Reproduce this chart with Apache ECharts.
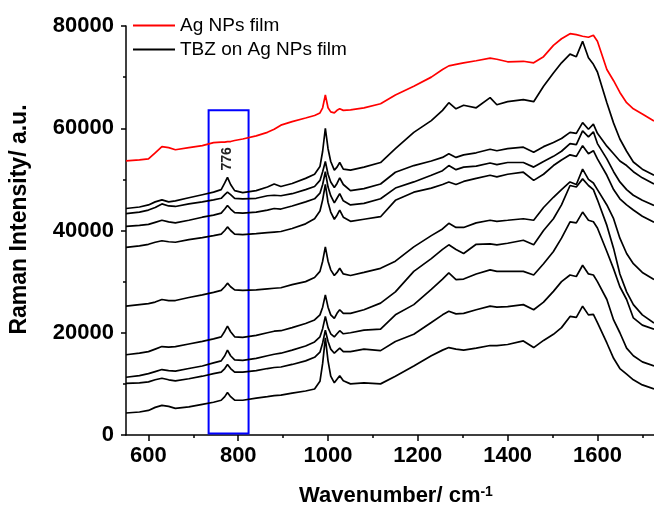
<!DOCTYPE html>
<html><head><meta charset="utf-8">
<script src="https://cdn.jsdelivr.net/npm/echarts@6/dist/echarts.min.js"></script>
<style>html,body{margin:0;padding:0;background:#fff}#c{width:654px;height:512px}</style>
</head><body><div id="c"></div>
<script>
// Wavenumber positions (cm-1) shared by all spectra
const wavenumbers = [550,580,600,615,630,645,660,690,720,745,762,770,776,783,792,810,840,865,880,895,920,950,970,982,988,994,1000,1006,1014,1020,1026,1034,1050,1080,1117,1150,1191,1230,1255,1269,1285,1302,1330,1361,1376,1400,1435,1458,1480,1502,1520,1539,1553,1567,1580,1591,1600,1621,1636,1650,1665,1680,1700,1726];
// Intensities in thousands of counts
const agFilm = [53.6,53.8,54.0,55.2,56.4,56.2,55.8,56.2,56.6,57.2,57.3,57.3,57.4,57.4,57.6,57.9,58.5,59.2,59.8,60.6,61.3,62.0,62.5,63.0,64.0,66.5,64.0,63.2,63.0,63.5,63.8,63.5,63.6,64.0,64.8,66.5,68.2,70.0,71.5,72.2,72.5,72.8,73.2,73.7,73.5,73.0,73.1,72.8,74.0,76.2,77.5,78.5,78.3,78.0,77.8,78.2,77.0,71.5,69.3,67.0,65.0,63.8,62.8,61.4];
const tbz1 = [44.3,44.6,45.0,45.6,46.0,45.6,45.8,46.4,47.0,47.5,48.0,49.3,50.4,49.0,47.8,47.4,47.8,48.5,49.1,48.6,49.2,50.2,51.0,52.5,55.5,60.0,56.0,53.5,51.8,52.4,53.3,52.0,51.8,52.4,53.3,56.0,59.2,61.5,63.5,65.0,63.8,64.5,64.0,66.0,64.6,65.2,65.6,65.2,68.2,70.8,72.8,74.5,74.0,77.0,73.8,72.5,71.0,65.0,61.0,57.9,55.5,53.4,52.0,50.8];
const tbz2 = [43.3,43.6,44.0,44.5,45.2,44.8,44.7,45.2,45.6,46.0,46.3,47.0,47.5,47.0,46.3,46.2,46.3,46.8,46.9,46.8,47.2,48.0,48.6,49.8,51.5,53.5,51.0,49.5,48.4,49.2,50.3,49.0,47.8,48.2,49.1,51.4,52.7,53.6,54.3,55.0,54.3,54.8,55.2,55.9,55.6,56.0,56.3,55.3,56.4,57.2,58.0,59.2,59.0,61.1,59.8,60.8,59.0,56.5,55.0,53.6,52.7,51.5,50.3,49.1];
const tbz3 = [40.8,41.0,41.2,41.6,42.0,41.7,41.5,42.0,42.6,43.0,43.4,44.2,44.9,44.2,43.5,43.4,43.6,44.0,44.3,44.2,44.8,45.6,46.2,47.3,49.0,51.5,48.5,46.8,45.4,46.3,47.2,45.8,45.0,45.3,46.2,48.3,49.5,50.8,51.7,52.7,51.9,52.4,52.6,53.2,52.9,53.3,53.3,52.4,53.5,54.5,55.5,57.0,56.8,59.5,58.3,59.3,57.0,54.0,51.5,49.5,48.0,46.9,45.9,44.9];
const tbz4 = [36.7,37.0,37.3,37.7,38.0,37.8,37.7,38.2,38.6,39.0,39.3,40.0,40.7,40.0,39.3,39.2,39.4,39.6,39.7,39.8,40.4,41.3,42.3,43.8,46.0,49.0,45.5,43.6,42.2,43.0,44.0,42.6,41.8,42.2,42.7,45.9,47.5,48.3,49.0,49.5,49.0,49.6,50.2,50.8,50.5,51.0,51.4,49.8,51.0,52.7,53.8,54.8,54.5,56.6,55.0,55.6,54.0,50.8,48.0,46.2,45.0,44.0,42.8,41.6];
const tbz5 = [25.2,25.5,25.7,26.0,26.5,26.3,26.3,26.9,27.4,27.9,28.3,29.0,29.7,29.0,28.4,28.3,28.4,28.6,28.7,28.8,29.4,30.0,30.8,32.0,34.0,36.8,34.0,32.3,31.2,31.8,32.6,31.5,31.2,31.8,32.6,34.0,36.8,39.0,40.3,41.4,40.6,40.6,41.5,42.0,41.8,42.0,42.3,42.0,44.5,46.5,48.0,49.5,49.0,52.0,50.0,49.3,48.0,45.0,42.3,38.5,35.5,33.5,31.8,30.4];
const tbz6 = [15.7,16.0,16.3,16.8,17.3,17.2,17.3,17.8,18.3,18.8,19.2,20.3,21.3,20.2,19.2,19.1,19.5,20.0,20.3,20.4,21.0,21.8,22.5,23.5,25.0,27.4,25.0,23.5,22.8,23.8,24.5,23.8,23.8,24.5,25.8,28.0,32.0,34.5,36.3,37.2,36.3,35.5,37.3,37.4,37.2,37.5,38.1,37.2,40.0,42.3,45.0,48.8,48.5,50.1,48.8,48.0,46.0,41.0,36.5,31.5,28.0,25.5,23.5,21.9];
const tbz7 = [11.3,11.6,12.0,12.4,12.8,12.6,12.5,13.0,13.5,14.1,14.5,15.5,16.6,15.5,14.7,14.6,15.0,15.5,15.8,16.0,16.6,17.4,18.2,19.2,20.8,23.2,21.0,19.8,19.2,19.8,20.4,19.8,20.0,20.5,20.7,23.5,25.5,28.5,30.5,31.7,30.4,30.5,31.5,32.3,32.0,32.0,32.0,31.3,33.5,35.9,38.5,41.7,41.5,43.6,42.0,41.7,40.5,35.9,32.5,29.0,26.5,22.9,21.5,20.7];
const tbz8 = [10.1,10.2,10.4,10.8,11.1,10.8,10.6,11.0,11.5,12.0,12.3,13.0,13.8,13.0,12.3,12.3,12.6,13.0,13.2,13.3,13.8,14.5,15.2,16.2,18.0,20.5,18.3,16.8,16.0,16.5,17.0,16.3,16.3,16.8,16.5,18.3,19.7,22.0,23.5,24.2,23.7,23.8,24.5,25.2,25.0,25.1,25.5,24.5,26.0,28.1,30.0,31.3,31.0,33.2,31.5,31.3,30.0,26.5,22.5,20.0,17.0,15.5,14.3,13.5];
const tbz9 = [4.3,4.5,4.8,5.4,5.8,5.6,5.2,5.5,6.0,6.4,6.8,7.5,8.3,7.5,6.8,6.8,7.2,7.5,7.7,7.8,8.2,8.6,9.0,10.5,14.0,19.0,14.5,11.5,10.2,10.9,11.6,10.6,10.0,10.2,10.0,11.5,13.5,15.5,16.6,17.1,16.8,16.6,17.0,17.5,17.5,17.7,18.4,17.1,18.5,19.7,21.0,23.2,23.0,25.2,23.5,23.6,22.0,18.0,15.0,13.0,11.9,10.8,9.8,9.0];
const tbzSpectra = [tbz1,tbz2,tbz3,tbz4,tbz5,tbz6,tbz7,tbz8,tbz9];
const UNIT = 1000;
const seriesNames = ['Ag NPs film','TBZ on Ag NPs film'];
const xMajorTicks = [600,800,1000,1200,1400,1600];
const xMinorTicks = [700,900,1100,1300,1500,1700];
const xRange = [550,1726];
const yRange = [0,80000];
const yStep = 20000;
const boxX = [734,823];
const boxY = [300,63500];
const peakLabel = {text:'776', x:776, y:54000};

const FONT = 'Liberation Sans, Arial, Helvetica, sans-serif';
const pairs = arr => wavenumbers.map((w,i)=>[w, arr[i]*UNIT]);
const plain = v => String(v);

const series = [{
  name: seriesNames[0], type:'line', data: pairs(agFilm), symbol:'none',
  color:'#ff0000', lineStyle:{width:1.7, color:'#ff0000'}, z:3
}];
tbzSpectra.forEach((arr,i)=>{
  const s = {name: seriesNames[1], type:'line', data: pairs(arr), symbol:'none',
    color:'#000000', lineStyle:{width:1.7, color:'#000000'}, z:2};
  if(i===0){
    s.markArea = {silent:true, itemStyle:{color:'rgba(0,0,0,0)', borderColor:'#0000ff', borderWidth:2},
      data:[[{coord:[boxX[0], boxY[0]]},{coord:[boxX[1], boxY[1]]}]]};
    s.markPoint = {silent:true, symbol:'circle', symbolSize:1, itemStyle:{color:'rgba(0,0,0,0)'},
      label:{show:true, formatter:peakLabel.text, rotate:90, position:'inside', fontSize:14, fontWeight:'bold', color:'#222', fontFamily:FONT},
      data:[{coord:[peakLabel.x, peakLabel.y]}]};
  }
  series.push(s);
});

const chart = echarts.init(document.getElementById('c'), null, {renderer:'canvas'});
chart.setOption({
  animation:false,
  backgroundColor:'#ffffff',
  textStyle:{fontFamily:FONT},
  grid:{left:125, right:0, top:26, bottom:74, containLabel:false},
  legend:{
    data:seriesNames, orient:'vertical', left:133, top:16, padding:0,
    icon:'rect', itemWidth:42, itemHeight:2, itemGap:5,
    textStyle:{fontSize:19, color:'#000', fontFamily:FONT}
  },
  xAxis:[{
    type:'value', min:xRange[0], max:xRange[1], position:'bottom',
    axisLine:{show:true, lineStyle:{color:'#000', width:1.5}},
    axisTick:{show:true, inside:false, length:6, lineStyle:{color:'#000', width:1.5}, customValues:xMajorTicks},
    axisLabel:{show:true, fontSize:22, fontWeight:'bold', color:'#000', margin:10, fontFamily:FONT, customValues:xMajorTicks, formatter:plain},
    splitLine:{show:false},
    name:'Wavenumber/ cm{sup|-1}', nameLocation:'middle', nameGap:50,
    nameTextStyle:{fontSize:22, fontWeight:'bold', color:'#000', fontFamily:FONT, padding:[0,0,0,12],
      rich:{sup:{fontSize:14, fontWeight:'bold', color:'#000', fontFamily:FONT, verticalAlign:'top'}}}
  },{
    type:'value', min:xRange[0], max:xRange[1], position:'bottom', offset:0,
    axisLine:{show:false},
    axisTick:{show:true, inside:false, length:3, lineStyle:{color:'#000', width:1.5}, customValues:xMinorTicks},
    axisLabel:{show:false}, splitLine:{show:false}
  }],
  yAxis:{
    type:'value', min:yRange[0], max:yRange[1], interval:yStep,
    axisLine:{show:true, lineStyle:{color:'#000', width:1.5}},
    axisTick:{show:true, inside:false, length:5, lineStyle:{color:'#000', width:1.5}},
    minorTick:{show:true, splitNumber:2, length:3, lineStyle:{color:'#000', width:1.5}},
    axisLabel:{fontSize:22, fontWeight:'bold', color:'#000', margin:12, fontFamily:FONT, formatter:plain},
    splitLine:{show:false}, minorSplitLine:{show:false},
    name:'Raman Intensity/ a.u.', nameLocation:'middle', nameGap:95,
    nameTextStyle:{fontSize:23, fontWeight:'bold', color:'#000', fontFamily:FONT, padding:[0,0,0,22]}
  },
  series: series
});
</script></body></html>
